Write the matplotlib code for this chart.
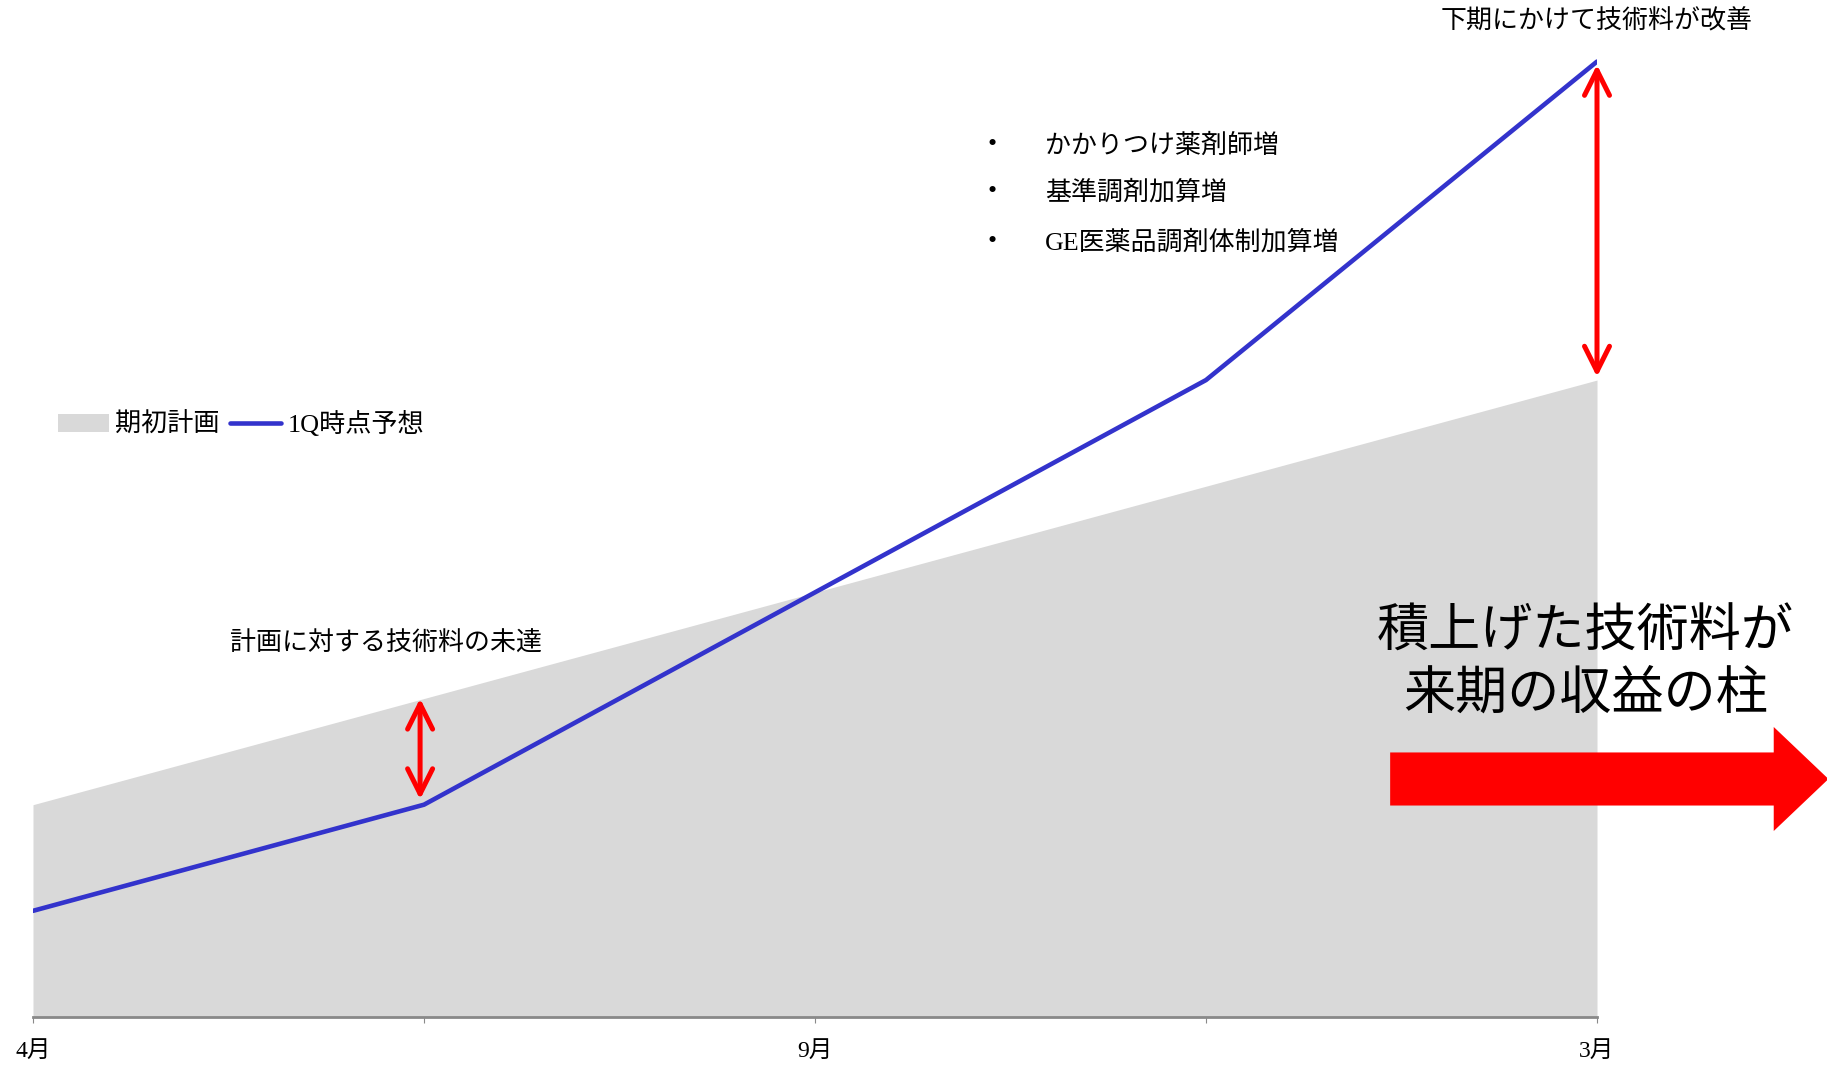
import numpy as np
import matplotlib.pyplot as plt
from matplotlib.patches import FancyArrow

plt.rcParams['font.family'] = ['Liberation Serif', 'Noto Sans CJK JP']

# data
months = ['4月', '', '9月', '', '3月']
plan = [2.0, 3.0, 4.0, 5.0, 6.0]          # 期初計画
forecast = [1.0, 2.0, 4.0, 6.0, 9.0]      # 1Q時点予想
bullets = ['かかりつけ薬剤師増', '基準調剤加算増', 'GE医薬品調剤体制加算増']

x = np.arange(len(months))

fig = plt.figure(figsize=(18.27, 10.66), dpi=100)
ax = fig.add_axes([33/1827, 49/1066, (1597-33)/1827, 1017/1066])

ax.fill_between(x, plan, color='#D9D9D9', lw=0, label='期初計画')
ax.plot(x, forecast, color='#3333CC', lw=3.3, solid_capstyle='round', label='1Q時点予想')

ax.set_xlim(0, 4)
ax.set_ylim(0, 9.58)
for s in ['top', 'left', 'right']:
    ax.spines[s].set_visible(False)
ax.spines['bottom'].set_color('#898989')
ax.spines['bottom'].set_linewidth(2)
ax.set_yticks([])
ax.set_xticks(x)
ax.set_xticklabels(months, fontsize=17)
ax.tick_params(axis='x', direction='out', length=4, width=0.8, color='#898989', pad=13)

# legend
ax.legend(loc='center left', bbox_to_anchor=(58/1827, 1 - 424/1066), bbox_transform=fig.transFigure,
          ncol=2, frameon=False, fontsize=18.8, handlelength=1.95, handletextpad=0.25,
          columnspacing=0.4, borderpad=0, borderaxespad=0)

# red double arrows
arr = dict(arrowstyle='<->,head_length=0.9,head_width=0.45', color='red', lw=3.6,
           shrinkA=0, shrinkB=0, mutation_scale=20)
ax.annotate('', xy=(0.99, forecast[1] + 0.05), xytext=(0.99, plan[1]), arrowprops=arr, annotation_clip=False)
ax.annotate('', xy=(4.0, plan[4] + 0.03), xytext=(4.0, forecast[4] - 0.03), arrowprops=arr, annotation_clip=False)

ax.text(0.903, 3.52, '計画に対する技術料の未達', fontsize=18.7, ha='center', va='center')
ax.text(4.0, 9.38, '下期にかけて技術料が改善', fontsize=18.7, ha='center', va='center', clip_on=False)

for b, yy in zip(bullets, [8.21, 7.77, 7.30]):
    ax.text(2.442, yy, '•', fontsize=18.7, ha='left', va='center')
    ax.text(2.588, yy, b, fontsize=18.7, ha='left', va='center')

# big message and arrow to next term
ax.text(3.97, 3.61, '積上げた技術料が', fontsize=37.5, ha='center', va='center', clip_on=False)
ax.text(3.97, 3.03, '来期の収益の柱', fontsize=37.5, ha='center', va='center', clip_on=False)
big = FancyArrow(3.471, 2.242, 4.592 - 3.471, 0, width=0.50, head_width=0.98,
                 head_length=0.14, length_includes_head=True, color='#FF0000', lw=0, clip_on=False)
ax.add_patch(big)

fig.savefig('out.png', dpi=100)
